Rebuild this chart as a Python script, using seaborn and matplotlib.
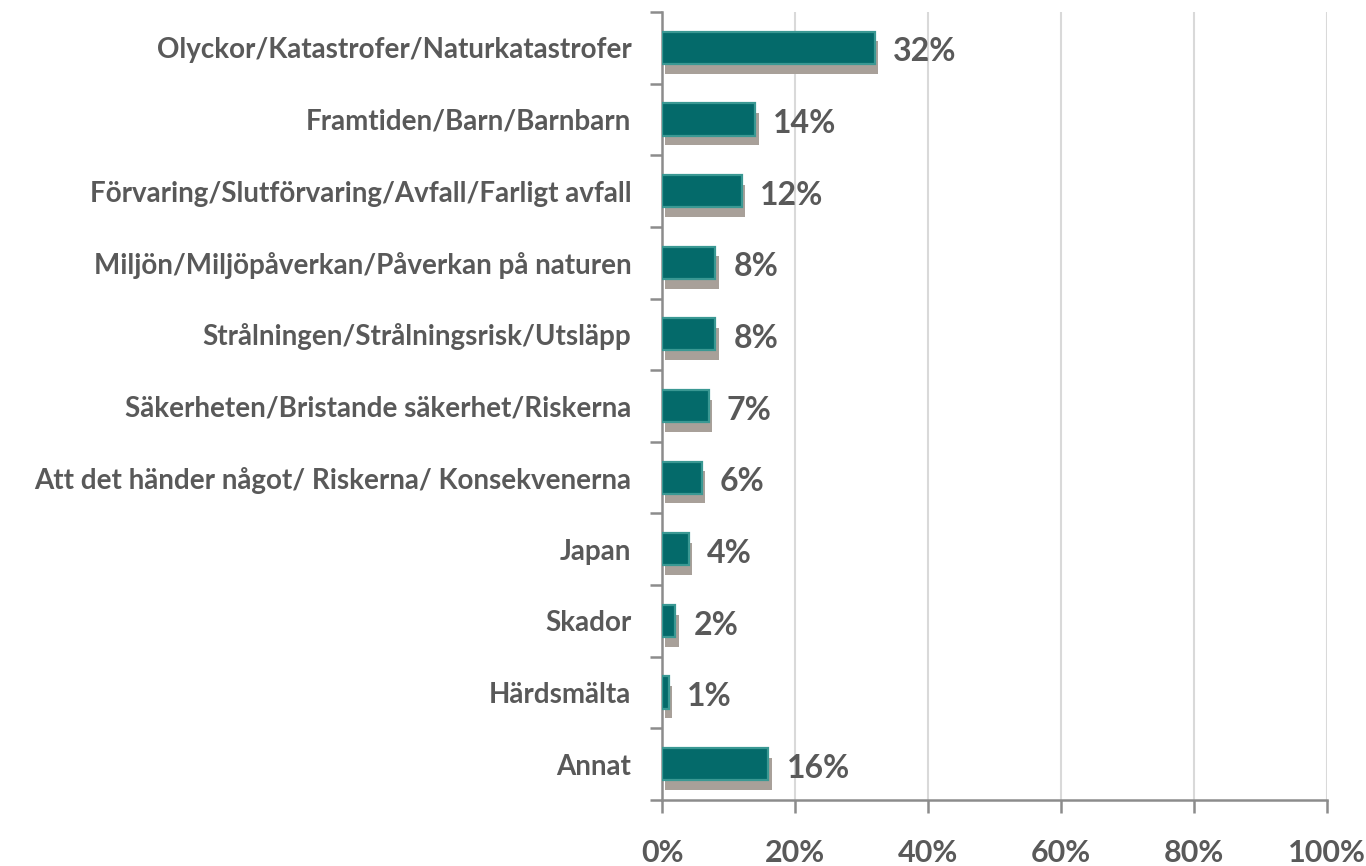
import pandas as pd
import seaborn as sns
import matplotlib.pyplot as plt
import matplotlib.patheffects as pe
from matplotlib.ticker import FixedLocator, PercentFormatter

categories = [
    "Olyckor/Katastrofer/Naturkatastrofer",
    "Framtiden/Barn/Barnbarn",
    "Förvaring/Slutförvaring/Avfall/Farligt avfall",
    "Miljön/Miljöpåverkan/Påverkan på naturen",
    "Strålningen/Strålningsrisk/Utsläpp",
    "Säkerheten/Bristande säkerhet/Riskerna",
    "Att det händer något/ Riskerna/ Konsekvenerna",
    "Japan",
    "Skador",
    "Härdsmälta",
    "Annat",
]
values = [32, 14, 12, 8, 8, 7, 6, 4, 2, 1, 16]
x_ticks = [0, 20, 40, 60, 80, 100]

df = pd.DataFrame({"category": categories, "share": values})

sns.set_theme(style="white")
plt.rcParams["font.family"] = ["Lato", "DejaVu Sans"]
text_color = "#595959"
axis_color = "#8c8c8c"

fig = plt.figure(figsize=(13.66, 8.66), dpi=100)
ax = fig.add_axes([662 / 1366, 1 - 800 / 866, (1327 - 662) / 1366, (800 - 12) / 866])

sns.barplot(data=df, x="share", y="category", orient="h", color="#046a6a",
            width=0.45, saturation=1, ax=ax, zorder=3)

# drop shadow under each bar, like the 3D office style
shadow = [pe.SimplePatchShadow(offset=(2.5, -7), shadow_rgbFace="#a8a099", alpha=1.0),
          pe.Normal()]
for bar in ax.patches:
    bar.set_edgecolor("#3a9893")
    bar.set_linewidth(1.6)
    bar.set_path_effects(shadow)

# value labels
for i, v in enumerate(values):
    ax.annotate(f"{v}%", xy=(v, i), xytext=(13, -3), textcoords="offset points",
                va="center", ha="left", fontsize=23, fontweight="bold",
                color=text_color)

ax.set_xlim(0, 100)
ax.set_ylim(len(categories) - 0.5, -0.5)
ax.xaxis.set_major_locator(FixedLocator(x_ticks))
ax.xaxis.set_major_formatter(PercentFormatter(decimals=0))
ax.grid(axis="x", color="#d9d9d9", linewidth=1.5, zorder=0)
ax.grid(axis="y", visible=False)
ax.set_axisbelow(True)

ax.set_xlabel("")
ax.set_ylabel("")

for side in ["top", "right"]:
    ax.spines[side].set_visible(False)
for side in ["left", "bottom"]:
    ax.spines[side].set_color(axis_color)
    ax.spines[side].set_linewidth(1.8)

ax.tick_params(axis="x", direction="out", length=9, width=1.8, color=axis_color,
               pad=19, labelsize=22, labelcolor=text_color, bottom=True)
ax.tick_params(axis="y", which="major", length=0, pad=22, labelsize=20,
               labelcolor=text_color, left=True)
ax.yaxis.set_minor_locator(FixedLocator([i - 0.5 for i in range(len(categories) + 1)]))
ax.tick_params(axis="y", which="minor", direction="out", length=9, width=1.8,
               color=axis_color, left=True)

for lbl in ax.get_xticklabels() + ax.get_yticklabels():
    lbl.set_fontweight("bold")

fig.savefig("out.png", dpi=100)
